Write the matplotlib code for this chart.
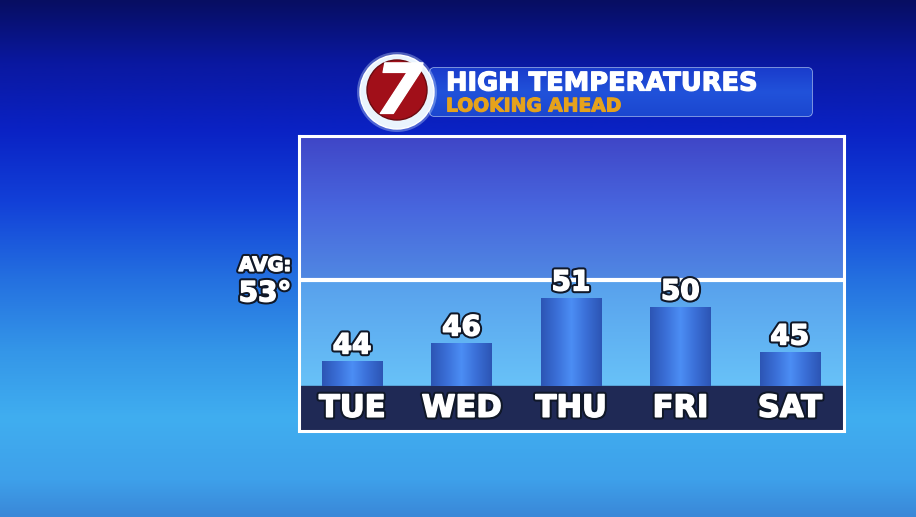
import numpy as np
import matplotlib
matplotlib.use("Agg")
import matplotlib.pyplot as plt
import matplotlib.patheffects as pe
from matplotlib.colors import LinearSegmentedColormap
from matplotlib.patches import Circle, FancyBboxPatch

# data
DAYS = ["TUE", "WED", "THU", "FRI", "SAT"]
HIGHS = [44, 46, 51, 50, 45]
AVG_HIGH = 53
TITLE = "HIGH TEMPERATURES"
SUBTITLE = "LOOKING AHEAD"

W, H = 916, 517
BASE = 41.2              # value at the top of the day strip (bars start here)
YLIM = (36.26, 69.03)
XLIM = (-0.49, 4.49)
AVG_X = -0.795           # x of the "AVG" label, left of the box

# dark outline + drop shadow, with a thin white stroke to fake a heavier face
OUTLINE = [pe.SimplePatchShadow(offset=(1.5, -1.5), shadow_rgbFace="black", alpha=0.6),
           pe.Stroke(linewidth=4, foreground="#101828"),
           pe.Stroke(linewidth=1.1, foreground="white"), pe.Normal()]
HEAVY = [pe.Stroke(linewidth=0.9, foreground="white"), pe.Normal()]


def gradient(ax, extent, stops, horizontal=False, clip=None, z=0):
    cmap = LinearSegmentedColormap.from_list("g", stops)
    v = np.linspace(0, 1, 256)
    img = v[None, :] if horizontal else v[:, None]
    im = ax.imshow(img, cmap=cmap, extent=extent, origin="upper", aspect="auto",
                   interpolation="bilinear", zorder=z)
    if clip is not None:
        im.set_clip_path(clip)
    return im


fig = plt.figure(figsize=(W / 100, H / 100), dpi=100)

# ---- background (pixel coordinates) ----
bg = fig.add_axes([0, 0, 1, 1])
bg.set_xlim(0, W)
bg.set_ylim(H, 0)
bg.axis("off")
gradient(bg, (0, W, H, 0), [(0.0, "#070e62"), (0.12, "#0a18a0"), (0.25, "#0a22c4"),
                            (0.39, "#1240d8"), (0.54, "#2470e0"), (0.68, "#3496e8"),
                            (0.81, "#40aef0"), (0.93, "#3ea0ea"), (1.0, "#3a88d8")])

# title banner
banner = FancyBboxPatch((430, 68), 382, 48, boxstyle="round,pad=0,rounding_size=4",
                        fc="#1c46d2", ec="#a9c4f4", lw=1, zorder=2)
bg.add_patch(banner)
gradient(bg, (430, 812, 116, 68), ["#1a3ccc", "#2152da", "#1b47d0"], clip=banner, z=2)
bg.text(446, 90.5, TITLE, ha="left", va="baseline", fontsize=18.5, weight="bold",
        color="white", path_effects=HEAVY, zorder=3)
bg.text(446, 111.5, SUBTITLE, ha="left", va="baseline", fontsize=13.5, weight="bold",
        color="#e5a21c", path_effects=[pe.Stroke(linewidth=0.8, foreground="#e5a21c"),
                                       pe.Normal()], zorder=3)

# station logo
bg.add_patch(Circle((397, 92), 40, fc="#cfe6ff", alpha=0.35, lw=0, zorder=3))
bg.add_patch(Circle((397, 92), 37, fc="#eaf4fd", ec="white", lw=1, zorder=3))
bg.add_patch(Circle((397, 90), 30, fc="#a10f19", ec="#6a0a10", lw=1, zorder=4))
bg.text(399, 94, "7", ha="center", va="center", fontsize=50, weight="bold",
        style="italic", color="white", path_effects=HEAVY, zorder=5)

# ---- chart box ----
ax = fig.add_axes([298.5 / W, 1 - 430.5 / H, 545 / W, 295 / H])
gradient(ax, (XLIM[0], XLIM[1], AVG_HIGH, YLIM[1]), ["#3f45c6", "#4866de", "#5088e2"])
gradient(ax, (XLIM[0], XLIM[1], BASE, AVG_HIGH), ["#58a0ec", "#68c2f8"])
ax.axhspan(YLIM[0], BASE, color="#1f2955", zorder=1)
ax.axhline(AVG_HIGH, color="white", lw=3, zorder=4)

x = np.arange(len(DAYS))
bars = ax.bar(x, np.array(HIGHS) - BASE, bottom=BASE, width=0.55, color="#3563c4", zorder=2)
for b in bars:
    x0, y0, bw, bh = b.get_x(), b.get_y(), b.get_width(), b.get_height()
    gradient(ax, (x0, x0 + bw, y0, y0 + bh),
             ["#2c55b4", "#3a6ed6", "#4c8ef4", "#3a6ed6", "#2c55b4"],
             horizontal=True, clip=b, z=2.5)

for xi, v in zip(x, HIGHS):
    ax.annotate(str(v), (xi, v), xytext=(0, 1), textcoords="offset points",
                ha="center", va="bottom", fontsize=20, weight="bold", color="white",
                path_effects=OUTLINE, zorder=5)

for xi, d in zip(x, DAYS):
    ax.text(xi, (YLIM[0] + BASE) / 2, d, ha="center", va="center", fontsize=22,
            weight="bold", color="white", path_effects=OUTLINE, zorder=5)

ax.text(AVG_X, AVG_HIGH + 1.6, "AVG:", ha="center", va="center", fontsize=14,
        weight="bold", color="white", path_effects=OUTLINE, clip_on=False)
ax.text(AVG_X, AVG_HIGH - 1.5, f"{AVG_HIGH}°", ha="center", va="center", fontsize=20,
        weight="bold", color="white", path_effects=OUTLINE, clip_on=False)

ax.set_xlim(XLIM)
ax.set_ylim(YLIM)
ax.set_xticks([])
ax.set_yticks([])
for s in ax.spines.values():
    s.set_color("white")
    s.set_linewidth(2.2)
    s.set_zorder(6)

fig.savefig("out.png", dpi=100)
